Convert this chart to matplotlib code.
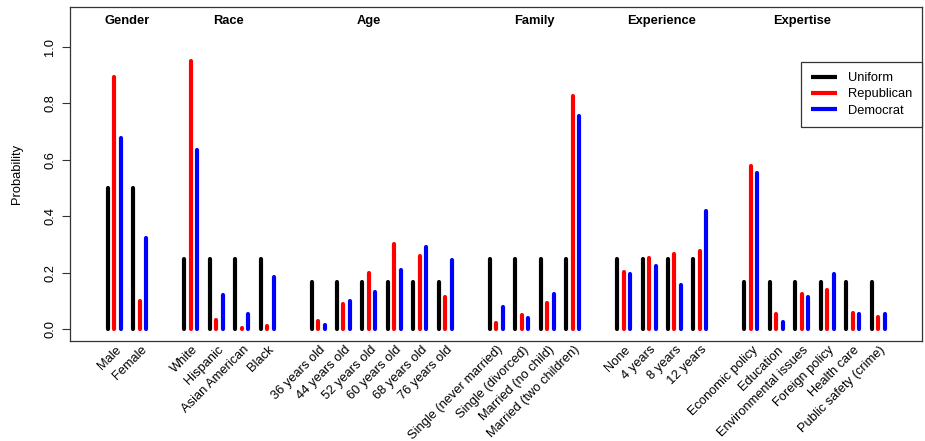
import matplotlib
matplotlib.use("Agg")
import matplotlib.pyplot as plt
import matplotlib.transforms as mtransforms

plt.rcParams['font.family'] = ['Liberation Sans', 'DejaVu Sans']

# ---- data ----
groups = ["Gender", "Race", "Age", "Family", "Experience", "Expertise"]
group_title_pos = [0.5, 4.5, 10.0, 16.5, 21.5, 27.0]

levels = ["Male", "Female",
          "White", "Hispanic", "Asian American", "Black",
          "36 years old", "44 years old", "52 years old", "60 years old", "68 years old", "76 years old",
          "Single (never married)", "Single (divorced)", "Married (no child)", "Married (two children)",
          "None", "4 years", "8 years", "12 years",
          "Economic policy", "Education", "Environmental issues", "Foreign policy", "Health care",
          "Public safety (crime)"]
level_pos = [0, 1,
             3, 4, 5, 6,
             8, 9, 10, 11, 12, 13,
             15, 16, 17, 18,
             20, 21, 22, 23,
             25, 26, 27, 28, 29, 30]

uniform = [0.50, 0.50,
           0.25, 0.25, 0.25, 0.25,
           0.167, 0.167, 0.167, 0.167, 0.167, 0.167,
           0.25, 0.25, 0.25, 0.25,
           0.25, 0.25, 0.25, 0.25,
           0.167, 0.167, 0.167, 0.167, 0.167, 0.167]
republican = [0.895, 0.10,
              0.952, 0.033, 0.006, 0.012,
              0.030, 0.090, 0.200, 0.302, 0.260, 0.115,
              0.023, 0.052, 0.092, 0.828,
              0.204, 0.254, 0.265, 0.278,
              0.577, 0.054, 0.125, 0.140, 0.058, 0.045]
democrat = [0.677, 0.322,
            0.635, 0.122, 0.053, 0.185,
            0.015, 0.100, 0.133, 0.210, 0.292, 0.247,
            0.077, 0.038, 0.125, 0.757,
            0.195, 0.225, 0.155, 0.420,
            0.553, 0.025, 0.115, 0.195, 0.053, 0.053]

series_names = ["Uniform", "Republican", "Democrat"]
series_colors = ["black", "red", "blue"]
series_values = [uniform, republican, democrat]

yticks = [0.0, 0.2, 0.4, 0.6, 0.8, 1.0]

# ---- figure ----
fig = plt.figure(figsize=(9.25, 4.41), dpi=100)
ax = fig.add_axes([70/925, (441-340.5)/441, (922-70)/925, (340.5-7)/441])

offsets = [-0.255, 0.0, 0.255]
for name, col, vals, off in zip(series_names, series_colors, series_values, offsets):
    for x, v in zip(level_pos, vals):
        ax.plot([x + off, x + off], [0, v], color=col, lw=3.0,
                solid_capstyle='round')
    ax.plot([], [], color=col, lw=3.0, label=name, solid_capstyle='butt')

ax.set_xlim(-1.74, 31.72)
ax.set_ylim(-0.04, 1.142)

ax.set_xticks([])
ax.set_yticks(yticks)
ax.set_yticklabels([f"{t:.1f}" for t in yticks], rotation=90, va='center', fontsize=9.3)
ax.tick_params(axis='y', length=6, width=0.8, color='#333333', pad=4)
ax.set_ylabel("Probability", fontsize=9.3, labelpad=15)

for sp in ax.spines.values():
    sp.set_color('#333333')
    sp.set_linewidth(0.9)

# group titles
for g, gx in zip(groups, group_title_pos):
    ax.text(gx, 1.092, g, ha='center', va='center', fontsize=9.3, fontweight='bold')

# rotated level labels
trans = mtransforms.blended_transform_factory(ax.transData, ax.transAxes)
offset = mtransforms.ScaledTranslation(0, -7.5/100, fig.dpi_scale_trans)
for lab, x in zip(levels, level_pos):
    ax.text(x + 0.2, 0, lab, transform=trans + offset, rotation=45,
            rotation_mode='anchor', ha='right', va='center', fontsize=9.3)

leg = ax.legend(loc='upper right', bbox_to_anchor=(1.0, (340.5-62)/333.5),
                borderaxespad=0, fancybox=False, framealpha=1, edgecolor='#333333',
                fontsize=9.3, handlelength=2.0, handletextpad=0.85,
                labelspacing=0.33, borderpad=0.78)
leg.get_frame().set_linewidth(0.9)

fig.savefig("out.png", dpi=100)
